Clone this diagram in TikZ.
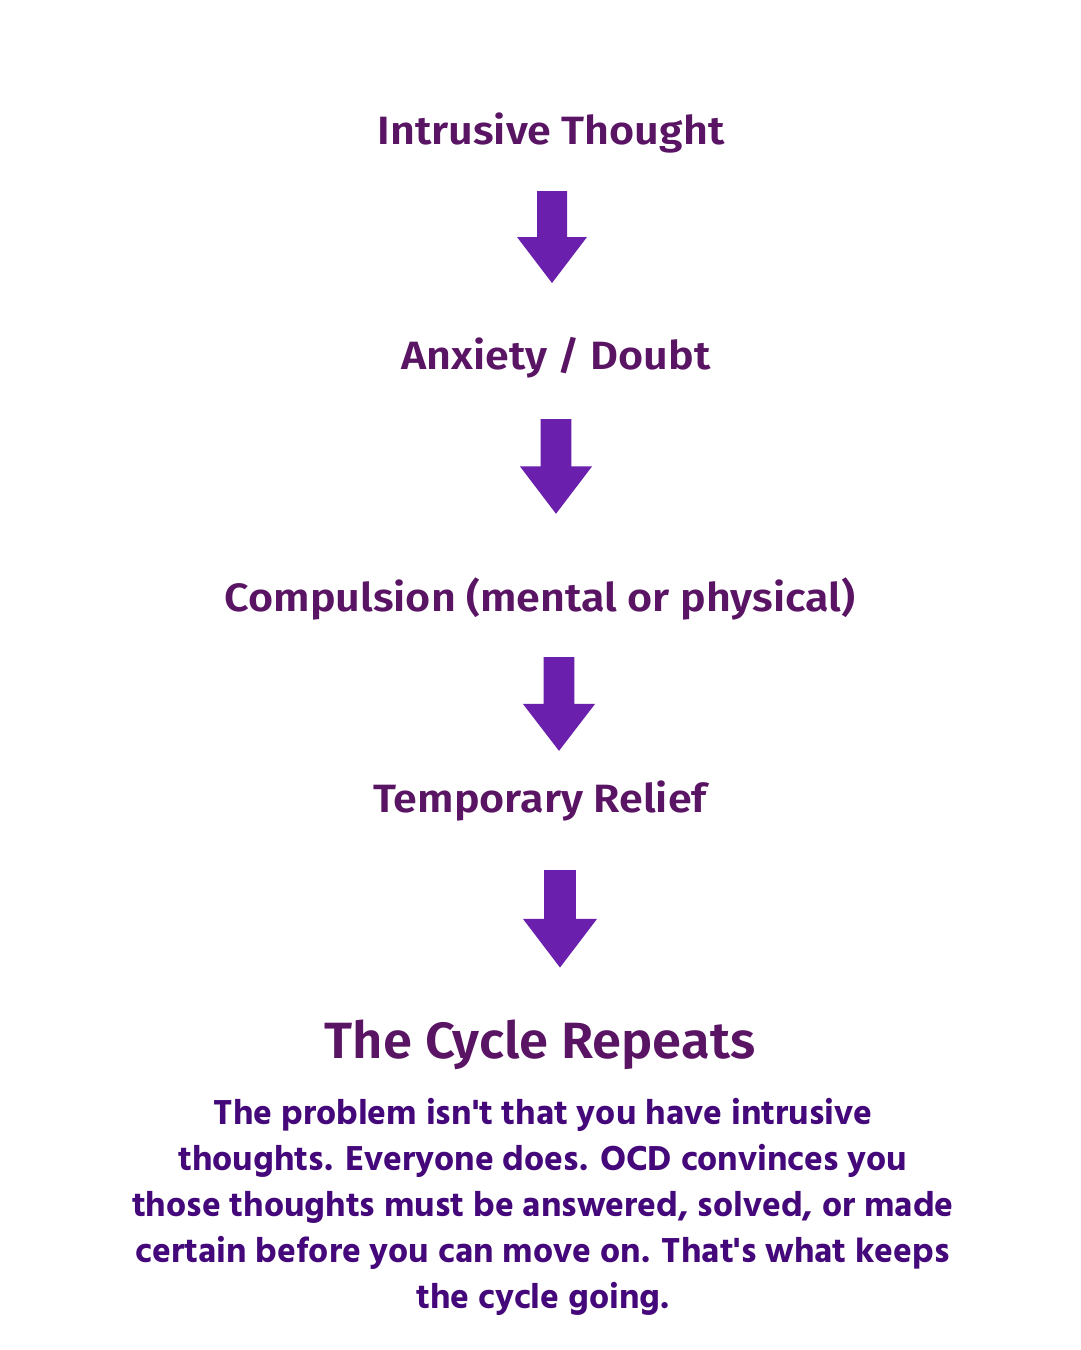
\documentclass[tikz,border=0pt]{standalone}
\usepackage{fontspec}
\newfontfamily\headfont{Fira Sans}[UprightFont=* SemiBold, FakeStretch=1.09]
\newfontfamily\bigheadfont{Fira Sans}[UprightFont=* SemiBold, FakeStretch=1.03]
\newfontfamily\bodyfont{Hind Siliguri}[UprightFont=* Bold]
\definecolor{headcol}{HTML}{5A1464}
\definecolor{arrowcol}{HTML}{6A1FAD}
\definecolor{bodycol}{HTML}{44087A}
\tikzset{
  head/.style={text=headcol, font=\headfont\fontsize{39.5}{44}\selectfont, inner sep=0pt, anchor=base},
  bighead/.style={text=headcol, font=\bigheadfont\fontsize{51}{56}\selectfont, inner sep=0pt, anchor=base},
  body/.style={text=bodycol, font=\bodyfont\fontsize{35.5}{46}\selectfont, inner sep=0pt, align=center, anchor=north},
  blockarrow/.pic={\fill[arrowcol] (-15,0) -- (15,0) -- (15,-46) -- (35,-46) -- (0,-92) -- (-35,-46) -- (-15,-46) -- cycle;}
}
\begin{document}
\begin{tikzpicture}[x=1pt,y=1pt]
\useasboundingbox (0,0) rectangle (1080,-1350);
\fill[white] (0,0) rectangle (1080,-1350);
\node[head] (t1) at (551,-144) {Intrusive Thought};
\node[head] (t2) at (556,-369) {Anxiety / Doubt};
\node[head] (t3) at (540,-611) {Compulsion (mental or physical)};
\node[head] (t4) at (540,-812) {Temporary Relief};
\node[bighead] (t5) at (540,-1058) {The Cycle Repeats};
\node[body] (b) at (543,-1098) {The problem isn't that you have intrusive\\thoughts. Everyone does. OCD convinces you\\those thoughts must be answered, solved, or made\\certain before you can move on. That's what keeps\\the cycle going.};
\coordinate (a1) at (552,-191);
\coordinate (a2) at (556,-419);
\coordinate (a3) at (559,-657);
\coordinate (a4) at (560,-870);
\pic at (a1) {blockarrow};
\pic[xscale=1.03,yscale=1.03] at (a2) {blockarrow};
\pic[xscale=1.03,yscale=1.02] at (a3) {blockarrow};
\pic[xscale=1.06,yscale=1.06] at (a4) {blockarrow};
\end{tikzpicture}
\end{document}
